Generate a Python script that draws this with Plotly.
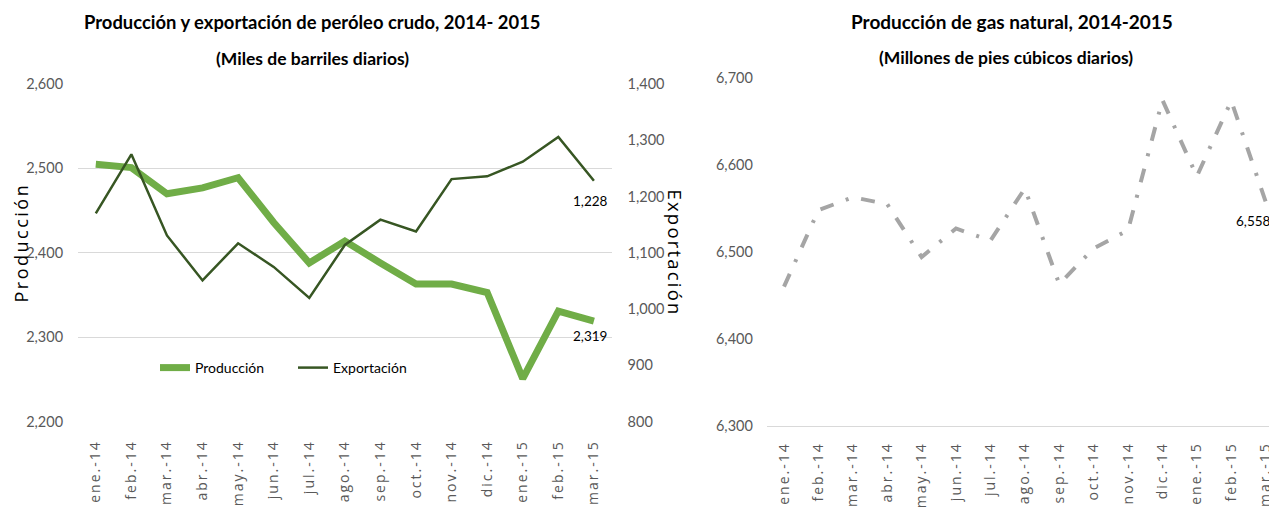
import plotly.graph_objects as go

meses = ["ene.-14", "feb.-14", "mar.-14", "abr.-14", "may.-14", "jun.-14", "jul.-14",
         "ago.-14", "sep.-14", "oct.-14", "nov.-14", "dic.-14", "ene.-15", "feb.-15", "mar.-15"]
produccion = [2505, 2501, 2470, 2477, 2489, 2436, 2388, 2414, 2388, 2363, 2363, 2353, 2251, 2331, 2319]
exportacion = [1170, 1275, 1131, 1051, 1117, 1075, 1020, 1114, 1159, 1138, 1231, 1236, 1262, 1306, 1228]
gas = [6460, 6548, 6563, 6555, 6494, 6527, 6513, 6573, 6463, 6504, 6525, 6675, 6587, 6674, 6558]

# the page body keeps its default 8px margin, so the figure fills the rest of the window
OFF = 8
W, H = 1277 - OFF, 510 - OFF
NARROW = "Lato, Liberation Sans, sans-serif"
WIDE = "Open Sans, DejaVu Sans, sans-serif"
GRAY = "#595959"

def px(x):
    return (x - OFF) / W

def py(y):
    return 1 - (y - OFF) / H

def spaced(t, s):
    return f'<span style="letter-spacing:{s}px">{t}</span>'

fig = go.Figure()
fig.add_trace(go.Scatter(x=meses, y=produccion, mode="lines", name="Producción",
                         line=dict(color="#70AD47", width=7), xaxis="x", yaxis="y",
                         legend="legend"))
fig.add_trace(go.Scatter(x=meses, y=exportacion, mode="lines", name="Exportación",
                         line=dict(color="#375623", width=2.5), xaxis="x", yaxis="y2",
                         legend="legend2"))
fig.add_trace(go.Scatter(x=meses, y=gas, mode="lines", name="Gas natural",
                         line=dict(color="#A5A5A5", width=4, dash="14px,13px,3px,13px"),
                         xaxis="x3", yaxis="y3", showlegend=False))

xtick = dict(family=WIDE, size=14, color=GRAY)
ytick = dict(family=NARROW, size=14.5, color=GRAY)
ticktext = [spaced(m, 2) for m in meses]

fig.update_layout(
    width=W, height=H, autosize=False,
    margin=dict(l=0, r=0, t=0, b=0, autoexpand=False),
    paper_bgcolor="white", plot_bgcolor="white",
    xaxis=dict(domain=[px(78), px(611.7)], type="category", range=[-0.5, 14.5],
               tickangle=-90, tickfont=xtick, tickmode="array", tickvals=meses,
               ticktext=ticktext, showgrid=False, zeroline=False, showline=False,
               ticks="outside", ticklen=12, tickcolor="rgba(0,0,0,0)", anchor="y"),
    yaxis=dict(domain=[py(421.7), py(84)], range=[2200, 2600], dtick=100,
               tickformat=",d", tickfont=ytick, showgrid=True, gridcolor="#D9D9D9",
               gridwidth=1.3, zeroline=False, showline=False, ticks="outside",
               ticklen=11, tickcolor="rgba(0,0,0,0)", anchor="x"),
    yaxis2=dict(overlaying="y", side="right", range=[800, 1400], dtick=100,
                tickformat=",d", tickfont=ytick, showgrid=False, zeroline=False,
                showline=False, ticks="outside", ticklen=12,
                tickcolor="rgba(0,0,0,0)", anchor="x"),
    xaxis3=dict(domain=[px(766.8), 1.0], type="category", range=[-0.5, 14.33],
                tickangle=-90, tickfont=xtick, tickmode="array", tickvals=meses,
                ticktext=ticktext, showgrid=False, zeroline=False, showline=True,
                linecolor="#D9D9D9", linewidth=1.3, ticks="outside", ticklen=10,
                tickcolor="rgba(0,0,0,0)", anchor="y3"),
    yaxis3=dict(domain=[py(425.5), py(78.3)], range=[6300, 6700], dtick=100,
                tickformat=",d", tickfont=ytick, showgrid=False, zeroline=False,
                showline=False, ticks="outside", ticklen=10,
                tickcolor="rgba(0,0,0,0)", anchor="x3"),
    legend=dict(orientation="h", x=px(155), y=py(368), xanchor="left", yanchor="middle",
                bgcolor="rgba(0,0,0,0)", font=dict(family=NARROW, size=14, color="#000")),
    legend2=dict(orientation="h", x=px(293), y=py(368), xanchor="left", yanchor="middle",
                 bgcolor="rgba(0,0,0,0)", font=dict(family=NARROW, size=14, color="#000")),
)

ann = []
sub_font = dict(family=NARROW, size=17.5, color="#000")
ann.append(dict(text="<b>Producción y exportación de peróleo crudo, 2014- 2015</b>",
                x=px(312), y=py(22), font=dict(family=NARROW, size=18.4, color="#000")))
ann.append(dict(text="<b>(Miles de barriles diarios)</b>", x=px(312), y=py(58), font=sub_font))
ann.append(dict(text="<b>Producción de gas natural, 2014-2015</b>",
                x=px(1012), y=py(22), font=dict(family=NARROW, size=19, color="#000")))
ann.append(dict(text="<b>(Millones de pies cúbicos diarios)</b>", x=px(1006), y=py(57),
                font=sub_font))
ann.append(dict(text=spaced("Producción", 2.5), x=px(20), y=py(242.5), textangle=-90,
                font=dict(family=WIDE, size=18, color="#000")))
ann.append(dict(text=spaced("Exportación", 2.2), x=px(675), y=py(252.5), textangle=90,
                font=dict(family=WIDE, size=18.5, color="#000")))
for a in ann:
    a.update(xref="paper", yref="paper", showarrow=False, xanchor="center", yanchor="middle")

lab_font = dict(family=NARROW, size=13.5, color="#000")
ann.append(dict(text=f"{exportacion[-1]:,}", x=meses[-1], y=exportacion[-1], xref="x", yref="y2",
                showarrow=False, yshift=-20, xshift=-3, font=lab_font))
ann.append(dict(text=f"{produccion[-1]:,}", x=meses[-1], y=produccion[-1], xref="x", yref="y",
                showarrow=False, yshift=-15, xshift=-4, font=lab_font))
ann.append(dict(text=f"{gas[-1]:,}", x=meses[-1], y=gas[-1], xref="x3", yref="y3",
                showarrow=False, yshift=-19, xshift=-12, font=lab_font))
fig.update_layout(annotations=ann)

fig.write_html("out.html")
